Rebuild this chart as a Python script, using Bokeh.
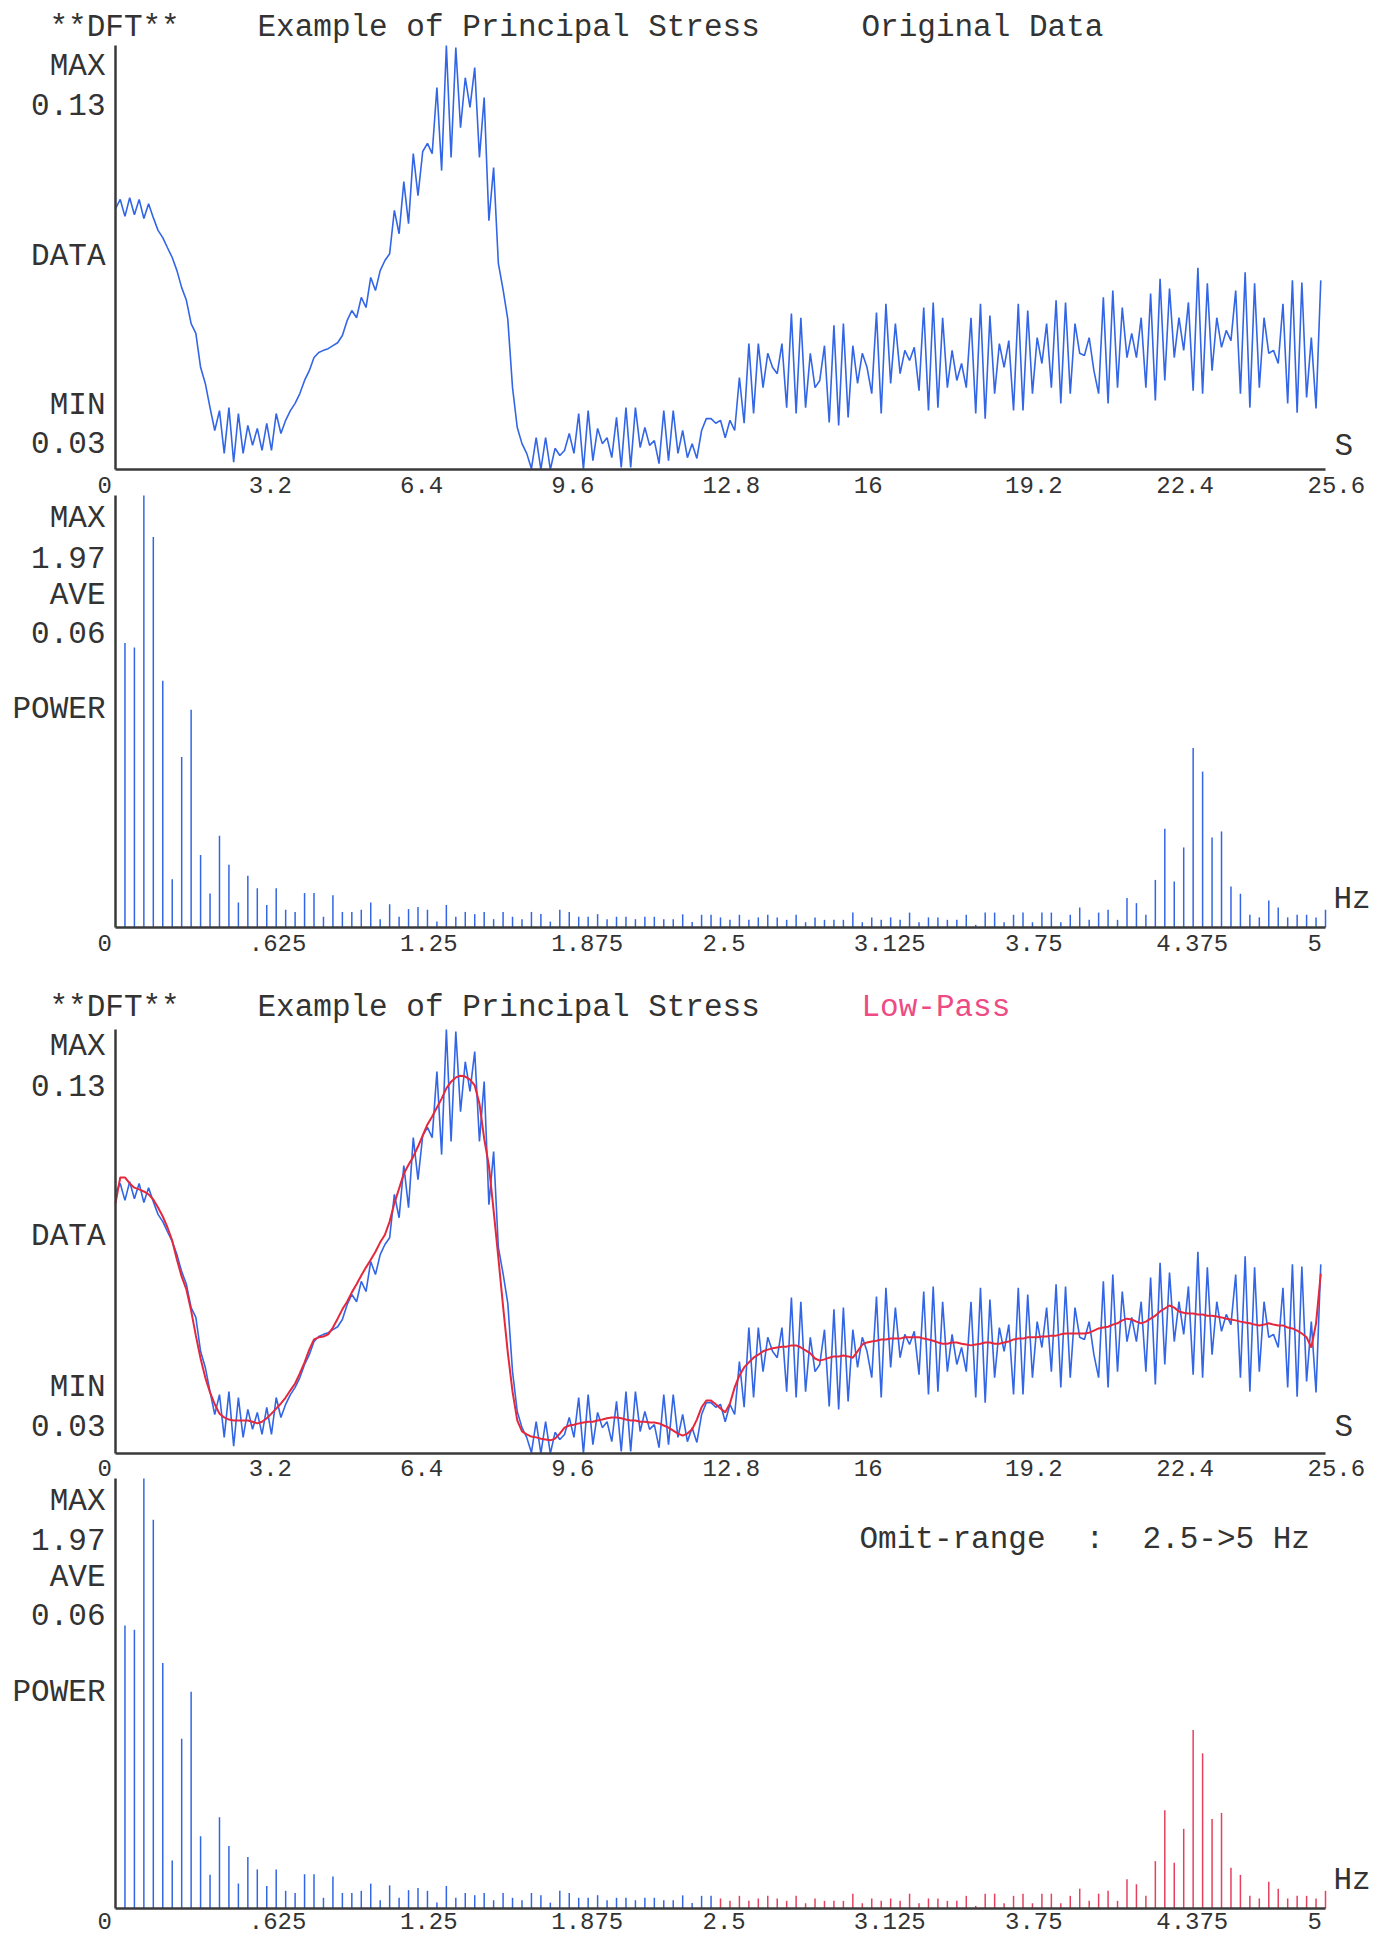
from bokeh.plotting import figure
from bokeh.models import Range1d, Label, FixedTicker, LinearAxis
from bokeh.embed import file_html
from bokeh.resources import INLINE

# ---------------- data ----------------
# principal stress, 256 samples, dt = 0.1 s
stress = [
    0.0915, 0.0937, 0.0897, 0.0941, 0.0901, 0.0937, 0.0892, 0.0927, 0.0894, 0.0864,
    0.0847, 0.0823, 0.0800, 0.0769, 0.0729, 0.0699, 0.0644, 0.0621, 0.0541, 0.0503,
    0.0446, 0.0392, 0.0439, 0.0338, 0.0446, 0.0317, 0.0432, 0.0338, 0.0404, 0.0357,
    0.0397, 0.0345, 0.0409, 0.0345, 0.0432, 0.0385, 0.0416, 0.0439, 0.0456, 0.0479,
    0.0510, 0.0533, 0.0564, 0.0576, 0.0581, 0.0585, 0.0592, 0.0599, 0.0616, 0.0651,
    0.0675, 0.0658, 0.0706, 0.0682, 0.0753, 0.0722, 0.0769, 0.0793, 0.0809, 0.0911,
    0.0856, 0.0979, 0.0880, 0.1045, 0.0946, 0.1050, 0.1069, 0.1045, 0.1201, 0.1005,
    0.1300, 0.1036, 0.1295, 0.1106, 0.1224, 0.1154, 0.1248, 0.1036, 0.1177, 0.0887,
    0.1012, 0.0786, 0.0724, 0.0654, 0.0493, 0.0399, 0.0361, 0.0338, 0.0302, 0.0375,
    0.0300, 0.0375, 0.0300, 0.0350, 0.0333, 0.0345, 0.0385, 0.0338, 0.0432, 0.0300,
    0.0439, 0.0321, 0.0397, 0.0361, 0.0375, 0.0328, 0.0423, 0.0305, 0.0446, 0.0305,
    0.0446, 0.0352, 0.0399, 0.0357, 0.0368, 0.0314, 0.0439, 0.0321, 0.0439, 0.0338,
    0.0392, 0.0328, 0.0361, 0.0326, 0.0392, 0.0420, 0.0420, 0.0409, 0.0416, 0.0375,
    0.0416, 0.0392, 0.0517, 0.0409, 0.0597, 0.0432, 0.0597, 0.0493, 0.0574, 0.0541,
    0.0526, 0.0597, 0.0446, 0.0668, 0.0432, 0.0658, 0.0446, 0.0574, 0.0493, 0.0510,
    0.0592, 0.0411, 0.0640, 0.0404, 0.0644, 0.0423, 0.0592, 0.0503, 0.0574, 0.0541,
    0.0479, 0.0670, 0.0432, 0.0691, 0.0503, 0.0644, 0.0526, 0.0581, 0.0557, 0.0588,
    0.0486, 0.0682, 0.0439, 0.0694, 0.0446, 0.0658, 0.0493, 0.0581, 0.0510, 0.0550,
    0.0493, 0.0658, 0.0432, 0.0691, 0.0420, 0.0663, 0.0479, 0.0597, 0.0541, 0.0604,
    0.0439, 0.0691, 0.0439, 0.0675, 0.0479, 0.0611, 0.0550, 0.0644, 0.0493, 0.0699,
    0.0456, 0.0694, 0.0479, 0.0644, 0.0574, 0.0569, 0.0611, 0.0533, 0.0479, 0.0706,
    0.0456, 0.0722, 0.0493, 0.0682, 0.0564, 0.0621, 0.0564, 0.0658, 0.0493, 0.0715,
    0.0463, 0.0750, 0.0510, 0.0727, 0.0564, 0.0658, 0.0581, 0.0694, 0.0486, 0.0776,
    0.0479, 0.0739, 0.0533, 0.0658, 0.0588, 0.0628, 0.0604, 0.0722, 0.0479, 0.0765,
    0.0446, 0.0739, 0.0493, 0.0658, 0.0574, 0.0581, 0.0550, 0.0691, 0.0456, 0.0746,
    0.0434, 0.0741, 0.0470, 0.0611, 0.0444, 0.0746,
]

# low-pass result (omit 2.5 -> 5 Hz)
lowpass = [
    0.0890, 0.0951, 0.0951, 0.0937, 0.0927, 0.0923, 0.0918, 0.0911, 0.0899, 0.0880,
    0.0859, 0.0833, 0.0802, 0.0757, 0.0717, 0.0687, 0.0637, 0.0578, 0.0524, 0.0479,
    0.0444, 0.0416, 0.0394, 0.0385, 0.0380, 0.0378, 0.0378, 0.0378, 0.0378, 0.0375,
    0.0371, 0.0375, 0.0383, 0.0394, 0.0406, 0.0418, 0.0432, 0.0449, 0.0465, 0.0489,
    0.0515, 0.0545, 0.0569, 0.0574, 0.0576, 0.0581, 0.0597, 0.0618, 0.0640, 0.0658,
    0.0680, 0.0699, 0.0720, 0.0739, 0.0757, 0.0776, 0.0798, 0.0816, 0.0847, 0.0890,
    0.0925, 0.0960, 0.0981, 0.1000, 0.1024, 0.1050, 0.1076, 0.1095, 0.1116, 0.1137,
    0.1161, 0.1177, 0.1187, 0.1191, 0.1189, 0.1182, 0.1168, 0.1125, 0.1043, 0.0979,
    0.0873, 0.0762, 0.0647, 0.0538, 0.0446, 0.0378, 0.0352, 0.0345, 0.0340, 0.0338,
    0.0335, 0.0333, 0.0331, 0.0335, 0.0347, 0.0361, 0.0366, 0.0368, 0.0371, 0.0373,
    0.0375, 0.0375, 0.0378, 0.0380, 0.0383, 0.0385, 0.0385, 0.0383, 0.0380, 0.0378,
    0.0378, 0.0375, 0.0375, 0.0373, 0.0373, 0.0371, 0.0366, 0.0361, 0.0354, 0.0347,
    0.0342, 0.0347, 0.0357, 0.0380, 0.0409, 0.0425, 0.0425, 0.0416, 0.0406, 0.0397,
    0.0418, 0.0456, 0.0484, 0.0503, 0.0515, 0.0526, 0.0533, 0.0541, 0.0545, 0.0548,
    0.0550, 0.0552, 0.0552, 0.0555, 0.0555, 0.0550, 0.0543, 0.0536, 0.0524, 0.0519,
    0.0522, 0.0526, 0.0529, 0.0529, 0.0531, 0.0529, 0.0526, 0.0541, 0.0557, 0.0562,
    0.0564, 0.0566, 0.0569, 0.0569, 0.0571, 0.0571, 0.0571, 0.0574, 0.0574, 0.0574,
    0.0574, 0.0571, 0.0569, 0.0566, 0.0562, 0.0559, 0.0559, 0.0562, 0.0562, 0.0559,
    0.0557, 0.0555, 0.0557, 0.0559, 0.0562, 0.0562, 0.0559, 0.0559, 0.0562, 0.0564,
    0.0569, 0.0571, 0.0571, 0.0574, 0.0574, 0.0574, 0.0576, 0.0576, 0.0578, 0.0578,
    0.0581, 0.0583, 0.0583, 0.0583, 0.0583, 0.0583, 0.0585, 0.0590, 0.0595, 0.0597,
    0.0599, 0.0604, 0.0607, 0.0614, 0.0618, 0.0616, 0.0611, 0.0607, 0.0611, 0.0618,
    0.0625, 0.0635, 0.0642, 0.0649, 0.0644, 0.0635, 0.0632, 0.0630, 0.0630, 0.0628,
    0.0628, 0.0625, 0.0625, 0.0623, 0.0621, 0.0618, 0.0616, 0.0614, 0.0611, 0.0609,
    0.0607, 0.0604, 0.0602, 0.0604, 0.0607, 0.0604, 0.0602, 0.0602, 0.0597, 0.0595,
    0.0590, 0.0583, 0.0574, 0.0550, 0.0607, 0.0724,
]

# DFT power, bins 1..128 (df = 1/25.6 Hz)
power = [
    1.297, 1.277, 1.970, 1.781, 1.125, 0.220, 0.778, 0.993, 0.331, 0.155,
    0.418, 0.286, 0.114, 0.236, 0.179, 0.103, 0.179, 0.081, 0.071, 0.157,
    0.157, 0.049, 0.147, 0.071, 0.071, 0.081, 0.114, 0.038, 0.106, 0.049,
    0.084, 0.094, 0.081, 0.027, 0.103, 0.049, 0.071, 0.061, 0.071, 0.038,
    0.071, 0.049, 0.038, 0.071, 0.061, 0.027, 0.081, 0.071, 0.049, 0.049,
    0.061, 0.038, 0.049, 0.049, 0.038, 0.049, 0.049, 0.038, 0.038, 0.060,
    0.025, 0.058, 0.058, 0.046, 0.035, 0.058, 0.035, 0.046, 0.058, 0.046,
    0.035, 0.058, 0.024, 0.046, 0.035, 0.035, 0.035, 0.068, 0.024, 0.046,
    0.035, 0.046, 0.035, 0.068, 0.024, 0.046, 0.046, 0.035, 0.035, 0.058,
    0.012, 0.068, 0.068, 0.024, 0.058, 0.068, 0.024, 0.068, 0.068, 0.024,
    0.058, 0.091, 0.035, 0.068, 0.081, 0.035, 0.134, 0.111, 0.058, 0.217,
    0.450, 0.210, 0.365, 0.818, 0.711, 0.410, 0.438, 0.187, 0.154, 0.058,
    0.046, 0.123, 0.091, 0.046, 0.058, 0.058, 0.046, 0.081,
]

dt = 0.1
n_bins = 128
t_max = 25.6
f_max = 5.0
data_min, data_max = 0.03, 0.13
power_max = 1.97
omit_lo = 2.5  # omit-range start (Hz)

time_ticks = [0, 3.2, 6.4, 9.6, 12.8, 16, 19.2, 22.4, 25.6]
time_tick_labels = ["0", "3.2", "6.4", "9.6", "12.8", "16", "19.2", "22.4", "25.6"]
freq_ticks = [0, 0.625, 1.25, 1.875, 2.5, 3.125, 3.75, 4.375, 5]
freq_tick_labels = ["0", ".625", "1.25", "1.875", "2.5", "3.125", "3.75", "4.375", "5"]

t = [i * dt for i in range(len(stress))]
freq = [(k + 1) * f_max / n_bins for k in range(len(power))]

# ---------------- styling / page geometry ----------------
FONT = "Liberation Mono"
INK = "#333333"
AXIS = "#3a3a3a"
BLUE = "#3366e6"
RED = "#e5283c"
RED_BAR = "#e6405e"
PINK = "#ee4a84"

FIG_W, FIG_H = 1380, 1935
AX_L, AX_W = 115, 1210        # x = 0 at page x 115, x max at page x 1325


def X(sx, xmax):
    return (sx - AX_L) / AX_W * xmax


class Band:
    """vertical placement of one panel: frame bottom / height in page pixels"""
    def __init__(self, name, frame_bottom, frame_h, ylo, yhi, xname, xmax):
        self.name, self.fb, self.fh, self.ylo, self.yhi = name, frame_bottom, frame_h, ylo, yhi
        self.xname, self.xmax = xname, xmax

    def Y(self, sy):
        return self.ylo + (self.fb - sy) / self.fh * (self.yhi - self.ylo)

    def yrange(self):
        return Range1d(self.Y(FIG_H), self.Y(0))


B1 = Band("default", 469, 424, data_min, data_max, "default", t_max)
B2 = Band("p2", 927, 432, 0, power_max, "freq", f_max)
B3 = Band("p3", 1453, 424, data_min, data_max, "default", t_max)
B4 = Band("p4", 1908, 430, 0, power_max, "freq", f_max)

p = figure(width=FIG_W, height=FIG_H,
           x_range=Range1d(X(0, t_max), X(FIG_W, t_max)), y_range=B1.yrange(),
           x_axis_type=None, y_axis_type=None,
           output_backend="svg", toolbar_location=None, min_border=0)
p.extra_x_ranges = {"freq": Range1d(X(0, f_max), X(FIG_W, f_max))}
p.extra_y_ranges = {"p2": B2.yrange(), "p3": B3.yrange(), "p4": B4.yrange()}
p.grid.visible = False
p.outline_line_color = None
p.background_fill_color = "white"
p.border_fill_color = "white"


def add_axes(b):
    xa = LinearAxis(x_range_name=b.xname, y_range_name=b.name,
                    fixed_location=b.ylo, bounds=(0, b.xmax))
    ya = LinearAxis(x_range_name=b.xname, y_range_name=b.name,
                    fixed_location=0, bounds=(b.ylo, b.yhi))
    for ax in (xa, ya):
        ax.ticker = FixedTicker(ticks=[])
        ax.major_label_text_font_size = "0px"
        ax.major_tick_line_color = None
        ax.minor_tick_line_color = None
        ax.axis_line_color = AXIS
        ax.axis_line_width = 2.5
    p.add_layout(xa, "below")
    p.add_layout(ya, "left")


def lab(b, x, y, text, size=31, align="left", color=INK, xoff=0):
    p.add_layout(Label(x=x, y=y, text=text, text_font=FONT,
                       x_range_name=b.xname, y_range_name=b.name,
                       text_font_size=f"{size}px", text_align=align,
                       text_baseline="middle", text_color=color, x_offset=xoff))


def side_labels(b, items):
    for txt, sy in items:
        lab(b, 0, b.Y(sy), txt, align="right", xoff=-10)


def tick_labels(b, ticks, labels, sy):
    for v, s in zip(ticks, labels):
        lab(b, v, b.Y(sy), s, size=24, xoff=-18)


for b in (B1, B2, B3, B4):
    add_axes(b)

# ---------------- panel 1: original data ----------------
p.line(t, stress, line_color=BLUE, line_width=1.6)
lab(B1, X(49, t_max), B1.Y(27), "**DFT**")
lab(B1, X(257, t_max), B1.Y(27), "Example of Principal Stress")
lab(B1, X(861, t_max), B1.Y(27), "Original Data")
side_labels(B1, [("MAX", 66), ("0.13", 104), ("DATA", 256), ("MIN", 405), ("0.03", 442)])
lab(B1, X(1334, t_max), B1.Y(446), "S")
tick_labels(B1, time_ticks, time_tick_labels, 484)

# ---------------- panel 2: power spectrum ----------------
p.segment(x0=freq, y0=[0] * len(freq), x1=freq, y1=power, line_color=BLUE, line_width=1.5,
          x_range_name="freq", y_range_name="p2")
side_labels(B2, [("MAX", 518), ("1.97", 557), ("AVE", 595), ("0.06", 632), ("POWER", 709)])
lab(B2, X(1333, f_max), B2.Y(899), "Hz")
tick_labels(B2, freq_ticks, freq_tick_labels, 942)

# ---------------- panel 3: low-pass ----------------
p.line(t, stress, line_color=BLUE, line_width=1.6, y_range_name="p3")
p.line(t, lowpass, line_color=RED, line_width=2, y_range_name="p3")
lab(B3, X(49, t_max), B3.Y(1007), "**DFT**")
lab(B3, X(257, t_max), B3.Y(1007), "Example of Principal Stress")
lab(B3, X(861, t_max), B3.Y(1007), "Low-Pass", color=PINK)
side_labels(B3, [("MAX", 1046), ("0.13", 1085), ("DATA", 1236), ("MIN", 1387), ("0.03", 1425)])
lab(B3, X(1334, t_max), B3.Y(1427), "S")
tick_labels(B3, time_ticks, time_tick_labels, 1467)

# ---------------- panel 4: spectrum with omitted range ----------------
keep_f = [f for f in freq if f < omit_lo]
keep_p = [pw for f, pw in zip(freq, power) if f < omit_lo]
omit_f = [f for f in freq if f >= omit_lo]
omit_p = [pw for f, pw in zip(freq, power) if f >= omit_lo]
p.segment(x0=keep_f, y0=[0] * len(keep_f), x1=keep_f, y1=keep_p, line_color=BLUE,
          line_width=1.5, x_range_name="freq", y_range_name="p4")
p.segment(x0=omit_f, y0=[0] * len(omit_f), x1=omit_f, y1=omit_p, line_color=RED_BAR,
          line_width=1.5, x_range_name="freq", y_range_name="p4")
side_labels(B4, [("MAX", 1501), ("1.97", 1539), ("AVE", 1577), ("0.06", 1614), ("POWER", 1692)])
lab(B4, X(859, f_max), B4.Y(1539), "Omit-range")
lab(B4, X(1085, f_max), B4.Y(1539), ":")
lab(B4, X(1142, f_max), B4.Y(1539), "2.5->5 Hz")
lab(B4, X(1333, f_max), B4.Y(1880), "Hz")
tick_labels(B4, freq_ticks, freq_tick_labels, 1920)

open("out.html", "w").write(file_html(p, INLINE))
